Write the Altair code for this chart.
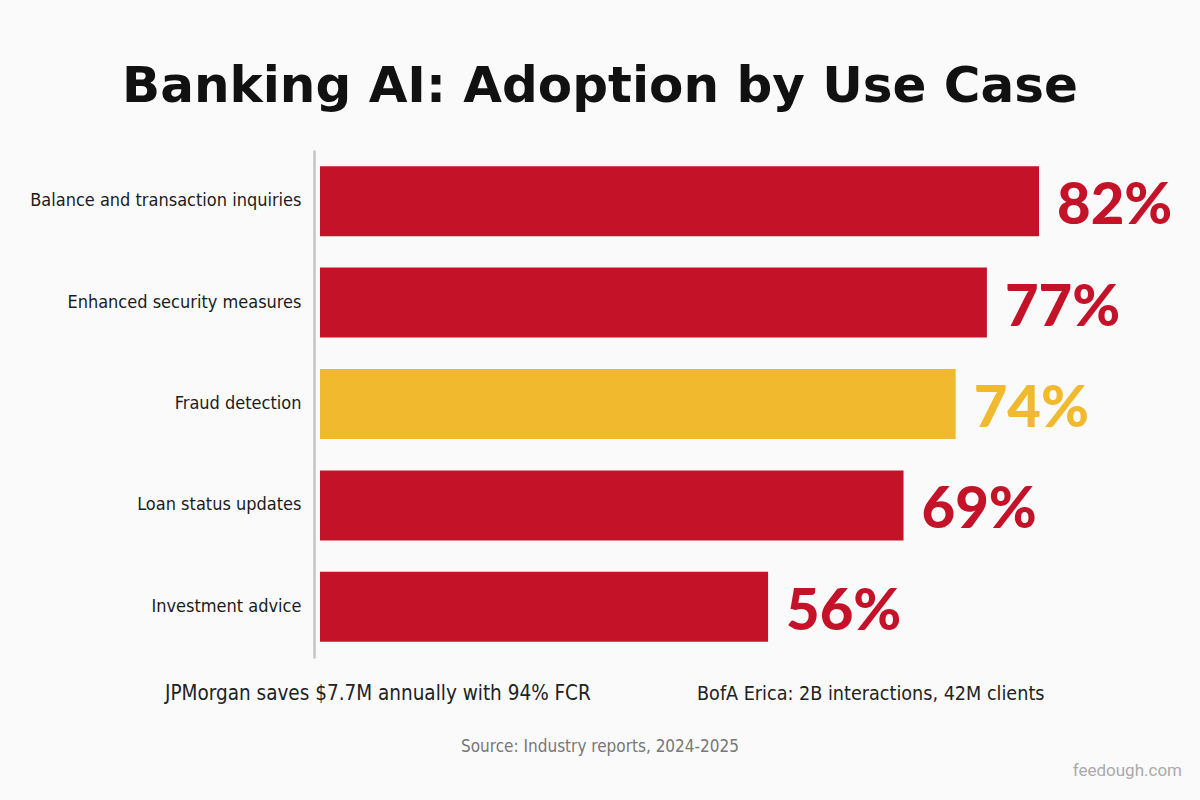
import altair as alt
import pandas as pd

categories = [
    "Balance and transaction inquiries",
    "Enhanced security measures",
    "Fraud detection",
    "Loan status updates",
    "Investment advice",
]
values = [82, 77, 74, 69, 56]
groups = ["main", "main", "highlight", "main", "main"]
value_labels = ["82%", "77%", "74%", "69%", "56%"]

title_text = "Banking AI: Adoption by Use Case"
note_left = "JPMorgan saves $7.7M annually with 94% FCR"
note_right = "BofA Erica: 2B interactions, 42M clients"
source_text = "Source: Industry reports, 2024-2025"
brand_text = "feedough.com"

RED = "#C41228"
GOLD = "#F0B92E"
LABEL_FONT = "DejaVu Sans Condensed, sans-serif"

df = pd.DataFrame({"cat": categories, "val": values, "grp": groups, "lab": value_labels})

y_enc = alt.Y(
    "cat:N",
    sort=categories,
    title=None,
    scale=alt.Scale(paddingInner=0.31, paddingOuter=0.16),
    axis=alt.Axis(
        labelFont=LABEL_FONT,
        labelFontSize=18,
        labelColor="#1c1c1c",
        labelPadding=13,
        labelLimit=400,
        ticks=False,
        domain=True,
        domainColor="#c4c4c4",
        domainWidth=2.5,
        offset=6,
        grid=False,
    ),
)
x_scale = alt.Scale(domain=[13, 82], zero=False)
color_enc = alt.Color(
    "grp:N", scale=alt.Scale(domain=["main", "highlight"], range=[RED, GOLD]), legend=None
)

bars = alt.Chart(df).mark_bar().encode(
    y=y_enc,
    x=alt.X("val:Q", scale=x_scale, axis=None),
    x2=alt.datum(13),
    color=color_enc,
)

labels = alt.Chart(df).mark_text(
    align="left", baseline="alphabetic", dx=18, dy=23, font="Lato", fontWeight=900, fontSize=58
).encode(
    y=alt.Y("cat:N", sort=categories),
    x=alt.X("val:Q", scale=x_scale),
    text="lab:N",
    color=color_enc,
)

def note(text, x, y, size, color, align="left", font=LABEL_FONT, weight="normal"):
    return alt.Chart(pd.DataFrame({"t": [text]})).mark_text(
        align=align, baseline="alphabetic", fontSize=size, color=color, font=font, fontWeight=weight
    ).encode(x=alt.value(x), y=alt.value(y), text="t:N")

title = note(title_text, 280, -48, 50, "#111111", align="center", font="DejaVu Sans", weight="bold")
n1 = note(note_left, -155, 550, 20.5, "#222222")
n2 = note(note_right, 377, 550, 19.6, "#222222")
src = note(source_text, 280, 602, 17, "#777777", align="center")
brand = note(brand_text, 862, 626, 17, "#aaaaaa", align="right", font="Roboto")

chart = (
    alt.layer(bars, labels, title, n1, n2, src, brand)
    .properties(
        width=719,
        height=508,
        padding={"left": 320, "top": 150, "right": 161, "bottom": 142},
        autosize=alt.AutoSizeParams(type="none"),
        background="#fafafa",
    )
    .configure_view(stroke=None)
)

chart.save("out.html", embed_options={"renderer": "svg", "actions": False})
